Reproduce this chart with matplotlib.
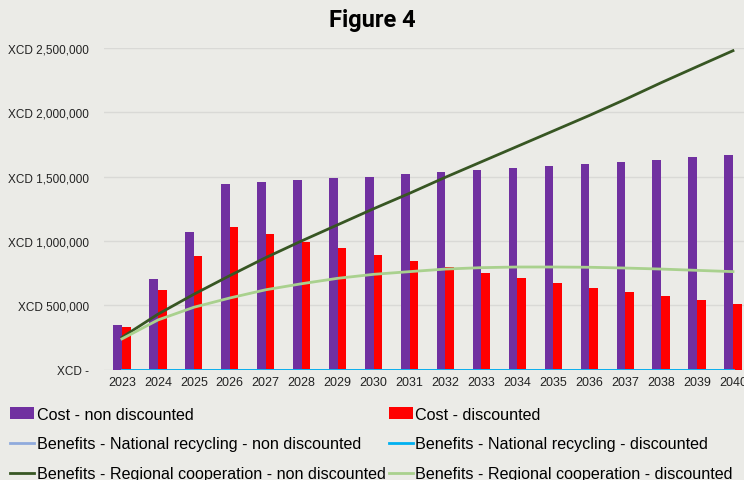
import matplotlib.pyplot as plt
import numpy as np
from matplotlib.ticker import FuncFormatter

years = list(range(2023, 2041))
cost_non_discounted = [348e3, 704e3, 1071e3, 1442e3, 1458e3, 1474e3, 1486e3, 1500e3, 1520e3,
                       1536e3, 1551e3, 1567e3, 1582e3, 1598e3, 1616e3, 1631e3, 1650e3, 1666e3]
cost_discounted = [328e3, 620e3, 880e3, 1110e3, 1051e3, 994e3, 942e3, 890e3, 841e3,
                   795e3, 753e3, 711e3, 673e3, 636e3, 603e3, 569e3, 538e3, 507e3]
national_non_discounted = [0] * 18
national_discounted = [0] * 18
regional_non_discounted = [250e3, 430e3, 585e3, 730e3, 870e3, 1000e3, 1125e3, 1250e3, 1370e3,
                           1495e3, 1615e3, 1735e3, 1855e3, 1975e3, 2100e3, 2230e3, 2355e3, 2479e3]
regional_discounted = [238e3, 385e3, 484e3, 556e3, 620e3, 667e3, 709e3, 740e3, 761e3,
                       781e3, 792e3, 797e3, 797e3, 795e3, 789e3, 781e3, 771e3, 761e3]

BG = '#ebebe7'
plt.rcParams['font.family'] = ['Liberation Sans', 'DejaVu Sans']

fig = plt.figure(figsize=(7.44, 4.81), dpi=100, facecolor=BG)
ax = fig.add_axes([104 / 744, (481 - 370.5) / 481, 1 - 104 / 744, (370.5 - 49) / 481])
ax.set_facecolor(BG)

x = np.arange(len(years))
w = 0.24
ax.bar(x - w / 2, cost_non_discounted, w, color='#7030a0', label='Cost - non discounted', zorder=2)
ax.bar(x + w / 2, cost_discounted, w, color='#ff0000', label='Cost - discounted', zorder=2)
ax.plot(x, national_non_discounted, color='#8faadc', lw=2,
        label='Benefits - National recycling - non discounted', zorder=3)
ax.plot(x, national_discounted, color='#00b0f0', lw=2,
        label='Benefits - National recycling - discounted', zorder=3)
ax.plot(x, regional_non_discounted, color='#375623', lw=2,
        label='Benefits - Regional cooperation - non discounted', zorder=3)
ax.plot(x, regional_discounted, color='#a9d18e', lw=2,
        label='Benefits - Regional cooperation - discounted', zorder=3)

ax.set_xlim(-0.5, (744 - 122) / 35.94)
ax.set_ylim(0, 2.5e6)
ax.set_yticks(np.arange(0, 2.5e6 + 1, 5e5))
ax.yaxis.set_major_formatter(FuncFormatter(lambda v, p: 'XCD -' if v == 0 else f'XCD {v:,.0f}'))
ax.set_xticks(x)
ax.set_xticklabels([str(y) for y in years])
ax.tick_params(axis='both', length=0, labelsize=8.5, colors='#222222')
ax.tick_params(axis='y', pad=11)
ax.tick_params(axis='x', pad=5, labelsize=9)
ax.grid(axis='y', color='#d9d9d6', lw=1, zorder=0)
for s in ax.spines.values():
    s.set_visible(False)

fig.text(0.5, 1 - 20 / 481, 'Figure 4', ha='center', va='center', fontsize=17, fontweight='bold',
         family=['Roboto', 'DejaVu Sans'])

# legend: bars first, column-major so rows pair non discounted / discounted
handles, labels = ax.get_legend_handles_labels()
order = [4, 0, 2, 5, 1, 3]
fig.legend([handles[i] for i in order], [labels[i] for i in order], ncol=2,
           loc='lower left', bbox_to_anchor=(0.005, -0.016), frameon=False, fontsize=11.6,
           handlelength=1.5, handletextpad=0.15, columnspacing=0.2, labelspacing=0.92,
           borderaxespad=0.0)

fig.savefig('out.png', dpi=100, facecolor=BG)
